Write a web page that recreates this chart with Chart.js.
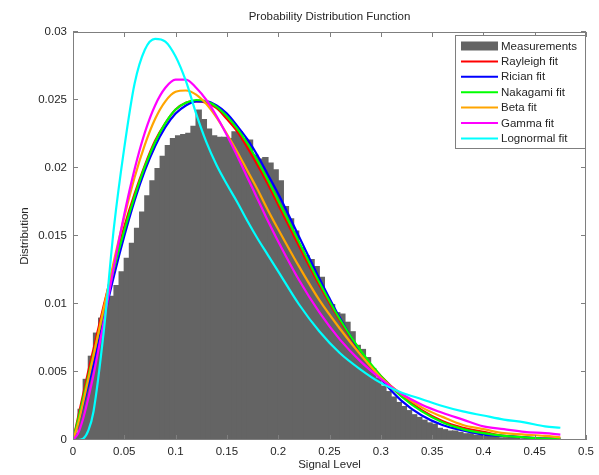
<!DOCTYPE html>
<html>
<head>
<meta charset="utf-8">
<script src="https://cdn.jsdelivr.net/npm/chart.js@4.4.0/dist/chart.umd.min.js"></script>
<style>
  html, body { margin: 0; padding: 0; background: #fff; }
  #wrap { width: 599px; height: 475px; }
</style>
</head>
<body>
<div id="wrap"><canvas id="myChart"></canvas></div>
<script>
// histogram: one value per 0.005 wide bin, starting at 0
const binWidth = 0.005;
const measurements = [
    0.0005, 0.0023, 0.0045, 0.0062, 0.0079, 0.0090, 0.0101, 0.0106, 0.0114, 0.0124,
    0.0134, 0.0145, 0.0156, 0.0168, 0.0180, 0.0191, 0.0200, 0.0209, 0.0217, 0.0222,
    0.0224, 0.0225, 0.0226, 0.0231, 0.0243, 0.0236, 0.0229, 0.0224, 0.0223, 0.0223,
    0.0222, 0.0227, 0.0227, 0.0222, 0.0221, 0.0210, 0.0207, 0.0208, 0.0204, 0.0199,
    0.0191, 0.0172, 0.0163, 0.0154, 0.0142, 0.0136, 0.0133, 0.0128, 0.0120, 0.0105,
    0.0100, 0.0094, 0.0093, 0.0087, 0.0080, 0.0070, 0.0067, 0.0061, 0.0053, 0.0046,
    0.0040, 0.0036, 0.0032, 0.0028, 0.0025, 0.0022, 0.0019, 0.0017, 0.0015, 0.0013,
    0.0012, 0.0009, 0.0008, 0.0007, 0.0007, 0.0006, 0.0005, 0.0005, 0.0004, 0.0004,
    0.0003, 0.0003, 0.0003, 0.0002, 0.0002, 0.0002, 0.0002, 0.0001, 0.0001, 0.0001,
    0.0001, 0.0001, 0.0001, 0.0001
];

// fitted curves, read at these signal levels
const fitX = [0, 0.005, 0.01, 0.015, 0.02, 0.03, 0.04, 0.05, 0.06, 0.07, 0.08, 0.09, 0.10,
    0.11, 0.12, 0.13, 0.14, 0.15, 0.16, 0.17, 0.18, 0.19, 0.20, 0.22, 0.24, 0.26, 0.28,
    0.30, 0.32, 0.34, 0.36, 0.38, 0.40, 0.42, 0.44, 0.46, 0.475];
const rayleighFit = [0, 0.0017, 0.0034, 0.0051, 0.0067, 0.0099, 0.0129, 0.0157, 0.0181, 0.0202, 0.0220, 0.0233, 0.0243,
    0.0248, 0.0249, 0.0248, 0.0244, 0.0236, 0.0227, 0.0215, 0.0202, 0.0188, 0.0173, 0.0143, 0.0114, 0.0088, 0.0065,
    0.0047, 0.0033, 0.0022, 0.0014, 0.0009, 0.0006, 0.0003, 0.0002, 0.0001, 0.0001];
const ricianFit = [0, 0.0012, 0.0026, 0.0041, 0.0056, 0.0089, 0.0121, 0.0150, 0.0176, 0.0198, 0.0216, 0.0230, 0.0240,
    0.0246, 0.0249, 0.0249, 0.0246, 0.0240, 0.0231, 0.0221, 0.0209, 0.0195, 0.0181, 0.0150, 0.0119, 0.0090, 0.0065,
    0.0045, 0.0029, 0.0018, 0.0011, 0.0007, 0.0004, 0.0003, 0.0002, 0.0001, 0.0001];
const nakagamiFit = [0, 0.0015, 0.0031, 0.0047, 0.0063, 0.0095, 0.0126, 0.0154, 0.0179, 0.0201, 0.0219, 0.0233, 0.0243,
    0.0248, 0.0250, 0.0249, 0.0245, 0.0238, 0.0229, 0.0218, 0.0205, 0.0191, 0.0176, 0.0146, 0.0116, 0.0089, 0.0066,
    0.0047, 0.0032, 0.0021, 0.0013, 0.0008, 0.0005, 0.0003, 0.0002, 0.0001, 0.0001];
const betaFit = [0, 0.0012, 0.0028, 0.0045, 0.0062, 0.0097, 0.0132, 0.0164, 0.0193, 0.0217, 0.0236, 0.0249, 0.0256,
    0.0257, 0.0254, 0.0247, 0.0237, 0.0225, 0.0212, 0.0198, 0.0184, 0.0169, 0.0155, 0.0128, 0.0103, 0.0082, 0.0063,
    0.0046, 0.0034, 0.0024, 0.0017, 0.0011, 0.0008, 0.0005, 0.0004, 0.0003, 0.0002];
const gammaFit = [0, 0.0005, 0.0016, 0.0031, 0.0048, 0.0087, 0.0128, 0.0166, 0.0199, 0.0226, 0.0246, 0.0259, 0.0265,
    0.0265, 0.0259, 0.0250, 0.0238, 0.0224, 0.0209, 0.0193, 0.0177, 0.0161, 0.0146, 0.0118, 0.0094, 0.0074, 0.0058,
    0.0045, 0.0034, 0.0026, 0.0020, 0.0015, 0.0010, 0.0008, 0.0006, 0.0005, 0.0004];
const lognormalFit = [0, 0, 0.0001, 0.0007, 0.0021, 0.0080, 0.0157, 0.0215, 0.0262, 0.0287, 0.0295, 0.0293, 0.0282,
    0.0264, 0.0240, 0.0219, 0.0202, 0.0188, 0.0175, 0.0161, 0.0148, 0.0136, 0.0124, 0.0100, 0.0080, 0.0064, 0.0052,
    0.0042, 0.0035, 0.0030, 0.0025, 0.0021, 0.0018, 0.0015, 0.0013, 0.0010, 0.0009];

const xTickLabels = ['0', '0.05', '0.1', '0.15', '0.2', '0.25', '0.3', '0.35', '0.4', '0.45', '0.5'];
const yTickLabels = ['0', '0.005', '0.01', '0.015', '0.02', '0.025', '0.03'];

const textColor = '#262626';
const boxColor = '#7f7f7f';
const font = { family: "'Liberation Sans', Arial, sans-serif", size: 11.5 };
const fontCss = "11.5px 'Liberation Sans', Arial, sans-serif";

function fitLine(label, ys, color, order) {
    return {
        type: 'line',
        label: label,
        data: fitX.map((x, i) => ({ x: x, y: ys[i] })),
        borderColor: color,
        backgroundColor: color,
        borderWidth: 2.2,
        pointRadius: 0,
        cubicInterpolationMode: 'monotone',
        fill: false,
        order: order
    };
}

// box, inward ticks, title and the inset legend, drawn the matlab way
const matlabFrame = {
    id: 'matlabFrame',
    afterDraw(chart) {
        const ctx = chart.ctx;
        const a = chart.chartArea;
        const xs = chart.scales.x, ys = chart.scales.y;
        ctx.save();
        ctx.strokeStyle = boxColor;
        ctx.lineWidth = 1;
        ctx.strokeRect(a.left + 0.5, a.top + 0.5, a.right - a.left - 1, a.bottom - a.top - 1);
        ctx.beginPath();
        xs.ticks.forEach(t => {
            const px = Math.round(xs.getPixelForValue(t.value)) + 0.5;
            ctx.moveTo(px, a.bottom); ctx.lineTo(px, a.bottom - 5);
            ctx.moveTo(px, a.top); ctx.lineTo(px, a.top + 5);
        });
        ys.ticks.forEach(t => {
            const py = Math.round(ys.getPixelForValue(t.value)) - 0.5;
            ctx.moveTo(a.left, py); ctx.lineTo(a.left + 5, py);
            ctx.moveTo(a.right, py); ctx.lineTo(a.right - 5, py);
        });
        ctx.stroke();

        // title
        ctx.fillStyle = textColor;
        ctx.font = fontCss;
        ctx.textAlign = 'center';
        ctx.textBaseline = 'middle';
        ctx.fillText('Probability Distribution Function', (a.left + a.right) / 2, 17);

        // legend
        const ds = chart.data.datasets;
        const bx = a.right - 131, by = a.top + 3, bw = 130, bh = 113;
        ctx.fillStyle = '#fff';
        ctx.fillRect(bx, by, bw, bh);
        ctx.strokeStyle = boxColor;
        ctx.strokeRect(bx + 0.5, by + 0.5, bw, bh);
        ctx.textAlign = 'left';
        ds.forEach((d, i) => {
            const y = by + 11 + i * 15.4;
            if (d.type === 'line') {
                ctx.strokeStyle = d.borderColor;
                ctx.lineWidth = 2;
                ctx.beginPath();
                ctx.moveTo(bx + 6, y); ctx.lineTo(bx + 43, y);
                ctx.stroke();
            } else {
                ctx.fillStyle = d.backgroundColor;
                ctx.fillRect(bx + 6, y - 4.5, 37, 9);
            }
            ctx.fillStyle = textColor;
            ctx.fillText(d.label, bx + 46, y + 0.5);
        });
        ctx.restore();
    }
};

const myChart = new Chart(document.getElementById('myChart'), {
    type: 'bar',
    data: {
        datasets: [
            {
                type: 'bar',
                label: 'Measurements',
                data: measurements.map((v, i) => ({ x: (i + 0.5) * binWidth, y: v })),
                backgroundColor: '#646464',
                borderWidth: 0,
                barPercentage: 1.25,
                categoryPercentage: 1,
                order: 10
            },
            fitLine('Rayleigh fit', rayleighFit, '#ff0000', 6),
            fitLine('Rician fit', ricianFit, '#0000ff', 5),
            fitLine('Nakagami fit', nakagamiFit, '#00ff00', 4),
            fitLine('Beta fit', betaFit, '#ffa500', 3),
            fitLine('Gamma fit', gammaFit, '#ff00ff', 2),
            fitLine('Lognormal fit', lognormalFit, '#00ffff', 1)
        ]
    },
    options: {
        responsive: true,
        maintainAspectRatio: false,
        animation: false,
        layout: { padding: { top: 32, right: 11, bottom: 0, left: 0 } },
        plugins: {
            legend: { display: false },
            title: { display: false },
            tooltip: { enabled: false }
        },
        scales: {
            x: {
                type: 'linear',
                min: 0,
                max: 0.5,
                offset: false,
                afterFit: s => { s.height = 35; },
                grid: { display: false, drawTicks: false },
                border: { display: false },
                ticks: {
                    stepSize: 0.05,
                    padding: 5,
                    maxRotation: 0,
                    autoSkip: false,
                    color: textColor,
                    font: font,
                    callback: (v, i) => xTickLabels[i]
                },
                title: { display: true, text: 'Signal Level', color: textColor, font: font, padding: { top: 0, bottom: 3 } }
            },
            y: {
                min: 0,
                max: 0.03,
                afterFit: s => { s.width = 73; },
                grid: { display: false, drawTicks: false },
                border: { display: false },
                ticks: {
                    stepSize: 0.005,
                    padding: 6,
                    autoSkip: false,
                    color: textColor,
                    font: font,
                    callback: (v, i) => yTickLabels[i]
                },
                title: { display: true, text: 'Distribution', color: textColor, font: font, padding: { top: 18, bottom: 0 } }
            }
        }
    },
    plugins: [matlabFrame]
});
</script>
</body>
</html>
